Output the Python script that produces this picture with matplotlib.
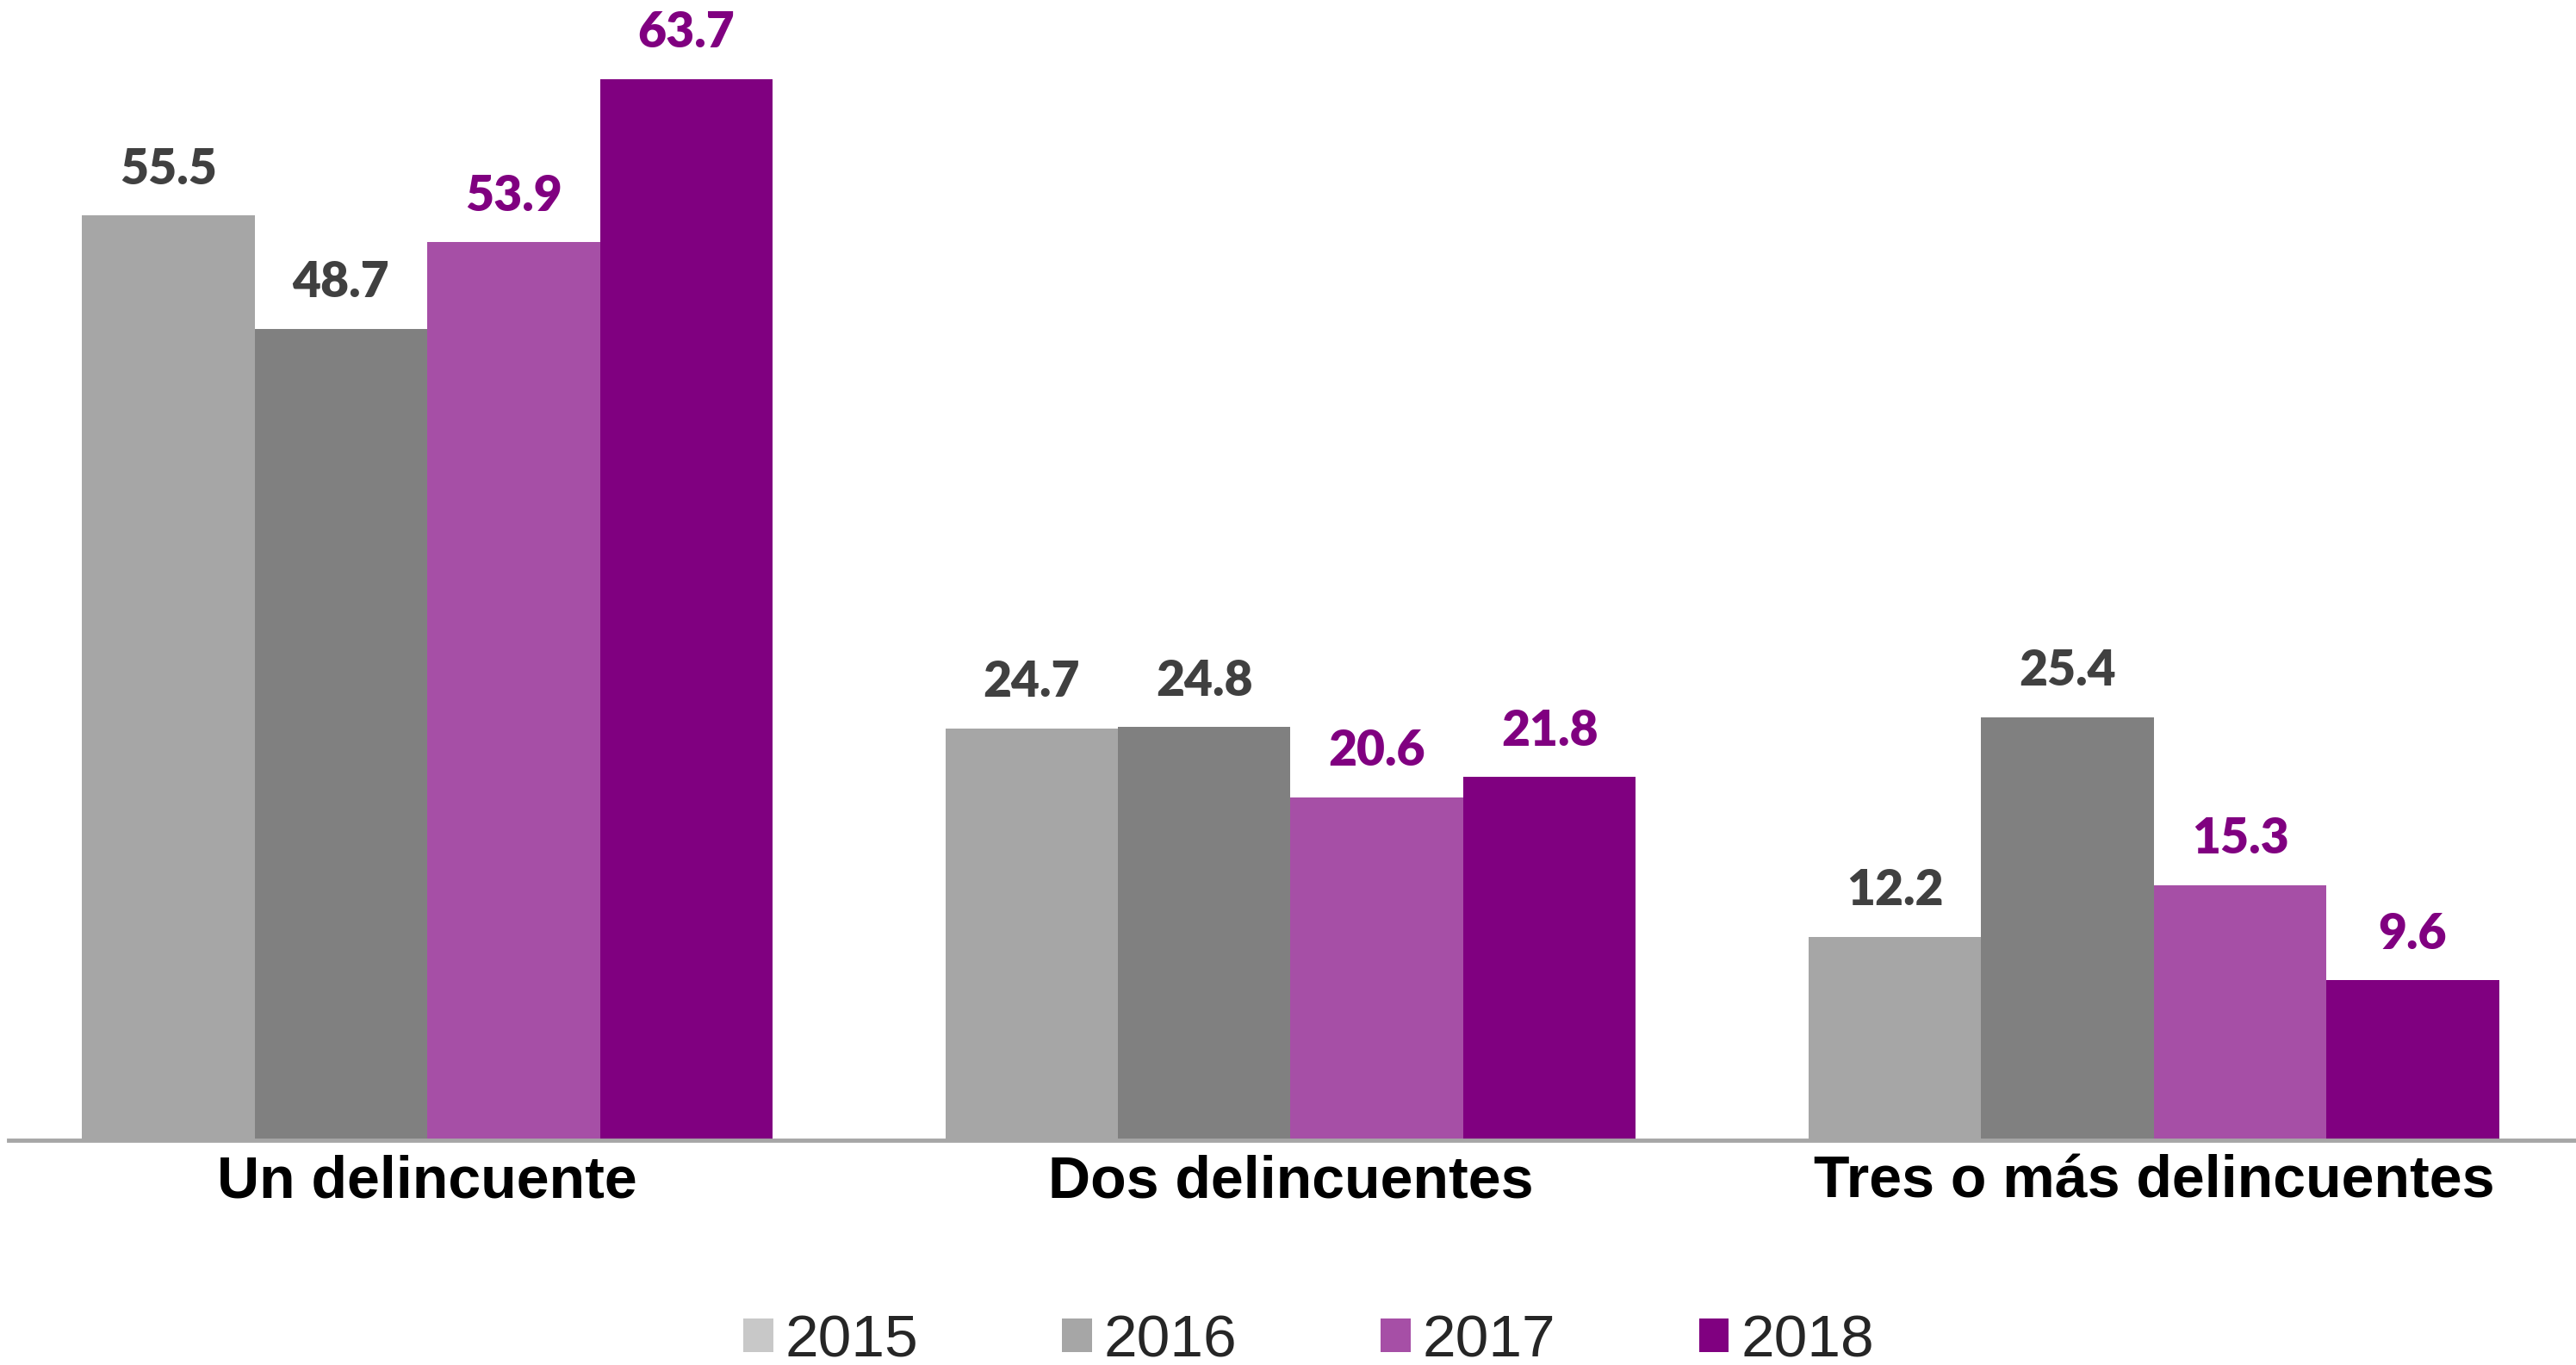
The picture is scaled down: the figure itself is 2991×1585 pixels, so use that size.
import matplotlib
matplotlib.use('Agg')
import numpy as np
import matplotlib.pyplot as plt
from matplotlib.patches import Patch

categories = ['Un delincuente', 'Dos delincuentes', 'Tres o más delincuentes']
years = ['2015', '2016', '2017', '2018']
values_2015 = [55.5, 24.7, 12.2]
values_2016 = [48.7, 24.8, 25.4]
values_2017 = [53.9, 20.6, 15.3]
values_2018 = [63.7, 21.8, 9.6]

series = [values_2015, values_2016, values_2017, values_2018]
bar_colors = ['#A6A6A6', '#808080', '#A64FA6', '#800080']
legend_colors = ['#C8C8C8', '#A6A6A6', '#A64FA6', '#800080']
label_colors = ['#404040', '#404040', '#800080', '#800080']

W, H = 2991, 1585
fig = plt.figure(figsize=(W / 100, H / 100), dpi=100)
ax = fig.add_axes([10 / W, 1 - 1324 / H, 1 - 10 / W, 1324 / H])

x = np.arange(len(categories))
width = 0.2
for i, vals in enumerate(series):
    pos = x + (i - 1.5) * width
    bars = ax.bar(pos, vals, width, color=bar_colors[i], zorder=2)
    for b, v in zip(bars, vals):
        ax.annotate('{0:.1f}'.format(v), (b.get_x() + b.get_width() / 2, v),
                    xytext=(0, 20), textcoords='offset points',
                    ha='center', va='bottom', fontsize=41, fontweight='heavy',
                    family='Lato', color=label_colors[i])

ax.set_xlim(-0.485, 2.489)
ax.set_ylim(0, 68.45)

for s in ['top', 'left', 'right']:
    ax.spines[s].set_visible(False)
ax.spines['bottom'].set_color('#A6A6A6')
ax.spines['bottom'].set_linewidth(3.5)
ax.spines['bottom'].set_zorder(3)

ax.set_yticks([])
ax.set_xticks(x)
ax.set_xticklabels(categories, fontsize=49, fontweight='bold', family='Liberation Sans')
ax.tick_params(axis='x', length=0, pad=12)

handles = [Patch(facecolor=c, edgecolor='none') for c in legend_colors]
fig.legend(handles, years, loc='center', bbox_to_anchor=(0.508, 1 - 1557 / H), ncol=4,
           frameon=False, prop={'family': 'Liberation Sans', 'size': 50},
           handlelength=0.5, handleheight=0.5, handletextpad=0.2,
           columnspacing=2.4, labelcolor='#262626', borderpad=0.1)

fig.savefig('out.png', dpi=100)
